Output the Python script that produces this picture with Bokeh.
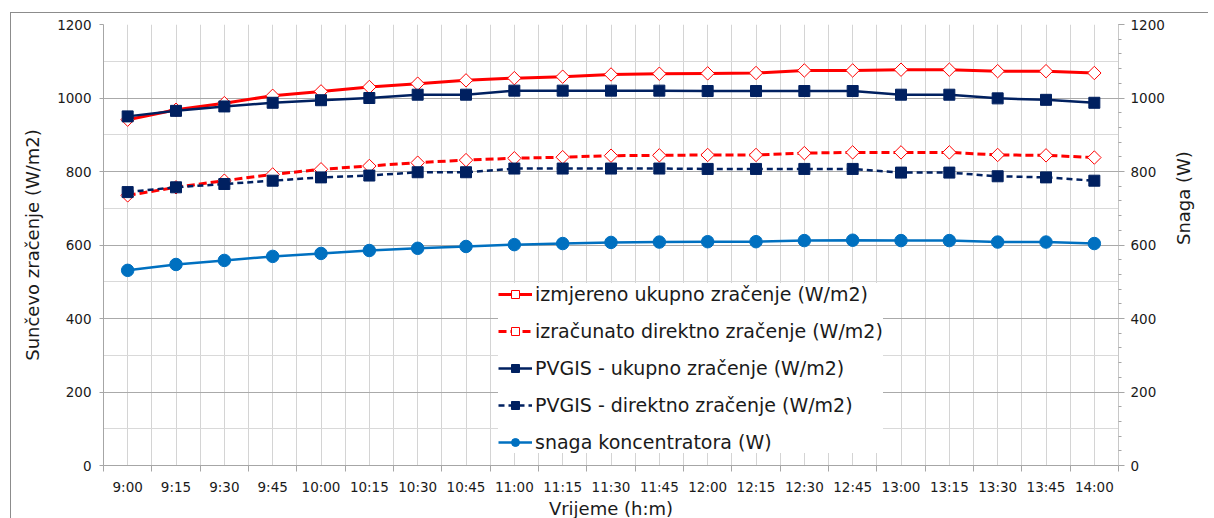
import math
from bokeh.plotting import figure
from bokeh.models import (Range1d, LinearAxis, FixedTicker, Legend, LegendItem, Grid)
from bokeh.embed import file_html
from bokeh.resources import INLINE

times = ["9:00", "9:15", "9:30", "9:45", "10:00", "10:15", "10:30", "10:45",
         "11:00", "11:15", "11:30", "11:45", "12:00", "12:15", "12:30", "12:45",
         "13:00", "13:15", "13:30", "13:45", "14:00"]

izmjereno_ukupno = [941, 968, 986, 1006, 1018, 1030, 1039, 1048, 1054, 1058, 1064,
                    1066, 1067, 1068, 1075, 1075, 1077, 1077, 1073, 1073, 1068]
izracunato_direktno = [735, 757, 775, 792, 806, 815, 824, 831, 836, 839, 843,
                       844, 845, 845, 850, 852, 852, 852, 845, 844, 838]
pvgis_ukupno = [950, 965, 977, 987, 994, 1000, 1009, 1009, 1020, 1020, 1020,
                1020, 1019, 1019, 1019, 1019, 1009, 1009, 999, 995, 987]
pvgis_direktno = [744, 757, 766, 775, 784, 789, 798, 798, 808, 808, 808,
                  808, 807, 807, 807, 807, 797, 797, 787, 784, 775]
snaga = [531, 547, 558, 569, 577, 585, 591, 596, 601, 604, 607,
         608, 609, 609, 612, 613, 612, 612, 608, 608, 604]

y_ticks = [0, 200, 400, 600, 800, 1000, 1200]

FONT = "DejaVu Sans"
TXT = "#1a1a1a"

xs = list(range(len(times)))
centers = xs
bounds = [i - 0.5 for i in range(len(times) + 1)]

p = figure(frame_width=1015, frame_height=441,
           x_range=Range1d(-0.5, len(times) - 0.5), y_range=Range1d(0, 1200),
           output_backend="svg", toolbar_location=None,
           min_border_left=92, min_border_right=90, min_border_top=11,
           min_border_bottom=50, x_axis_type=None, y_axis_type=None)
p.extra_y_ranges = {"power": Range1d(0, 1200)}
p.outline_line_color = None
p.background_fill_color = "white"
p.border_fill_color = "white"
p.styles = {"margin-left": "10px", "margin-top": "12px",
            "border-left": "1px solid #8c8c8c", "border-top": "1px solid #8c8c8c"}

# x axis
xaxis = LinearAxis(ticker=FixedTicker(ticks=centers, minor_ticks=bounds))
xaxis.major_label_overrides = {i: t for i, t in enumerate(times)}
xaxis.major_tick_line_color = None
xaxis.minor_tick_in = 0
xaxis.minor_tick_out = 6
xaxis.minor_tick_line_color = "#a6a6a6"
xaxis.axis_line_color = "#a6a6a6"
xaxis.axis_label = "Vrijeme (h:m)"
xaxis.axis_label_text_font = FONT
xaxis.axis_label_text_font_size = "18px"
xaxis.axis_label_text_font_style = "normal"
xaxis.axis_label_text_color = TXT
xaxis.axis_label_standoff = 0
xaxis.major_label_text_font = FONT
xaxis.major_label_text_font_size = "13.5px"
xaxis.major_label_text_color = TXT
xaxis.major_label_standoff = 7
p.add_layout(xaxis, "below")

# left y axis
yaxis = LinearAxis(ticker=FixedTicker(ticks=y_ticks, minor_ticks=list(range(0, 1201, 100))))
yaxis.axis_label = "Sunčevo zračenje (W/m2)"
yaxis.major_tick_in = 0
yaxis.major_tick_out = 4
yaxis.major_tick_line_color = "#a6a6a6"
yaxis.minor_tick_line_color = None
yaxis.axis_line_color = "#a6a6a6"
yaxis.axis_label_text_font = FONT
yaxis.axis_label_text_font_size = "18px"
yaxis.axis_label_text_font_style = "normal"
yaxis.axis_label_text_color = TXT
yaxis.axis_label_standoff = 11
yaxis.major_label_text_font = FONT
yaxis.major_label_text_font_size = "13.5px"
yaxis.major_label_text_color = TXT
yaxis.major_label_standoff = 8
p.add_layout(yaxis, "left")

# right y axis
raxis = LinearAxis(y_range_name="power",
                   ticker=FixedTicker(ticks=y_ticks, minor_ticks=list(range(0, 1201, 40))))
raxis.axis_label = "Snaga (W)"
raxis.axis_label_orientation = math.pi / 2
raxis.axis_label_text_align = "right"
raxis.axis_label_text_baseline = "top"
raxis.major_tick_in = 0
raxis.major_tick_out = 6
raxis.minor_tick_in = 0
raxis.minor_tick_out = 3
raxis.major_tick_line_color = "#a6a6a6"
raxis.minor_tick_line_color = "#a6a6a6"
raxis.axis_line_color = "#c8c8c8"
raxis.axis_label_text_font = FONT
raxis.axis_label_text_font_size = "18px"
raxis.axis_label_text_font_style = "normal"
raxis.axis_label_text_color = TXT
raxis.axis_label_standoff = 16
raxis.major_label_text_font = FONT
raxis.major_label_text_font_size = "13.5px"
raxis.major_label_text_color = TXT
raxis.major_label_standoff = 6
p.add_layout(raxis, "right")

# grids
xgrid = Grid(dimension=0, ticker=xaxis.ticker)
xgrid.grid_line_color = "#d4d4d4"
xgrid.minor_grid_line_color = "#d4d4d4"
p.add_layout(xgrid)
ygrid = Grid(dimension=1, ticker=yaxis.ticker)
ygrid.grid_line_color = "#aaaaaa"
ygrid.minor_grid_line_color = "#d9d9d9"
p.add_layout(ygrid)

RED = "#ff0000"
NAVY = "#002060"
BLUE = "#0070c0"

l1 = p.line(xs, izmjereno_ukupno, line_color=RED, line_width=3)
s1 = p.scatter(xs, izmjereno_ukupno, marker="square", angle=math.pi / 4, size=9.5,
               fill_color="white", line_color=RED, line_width=1)
l2 = p.line(xs, izracunato_direktno, line_color=RED, line_width=3, line_dash="8 4")
s2 = p.scatter(xs, izracunato_direktno, marker="square", angle=math.pi / 4, size=9.5,
               fill_color="white", line_color=RED, line_width=1)
l3 = p.line(xs, pvgis_ukupno, line_color=NAVY, line_width=2.5)
s3 = p.scatter(xs, pvgis_ukupno, marker="square", size=11, fill_color=NAVY,
               line_color=NAVY)
l4 = p.line(xs, pvgis_direktno, line_color=NAVY, line_width=2.5, line_dash="6 4")
s4 = p.scatter(xs, pvgis_direktno, marker="square", size=11, fill_color=NAVY,
               line_color=NAVY)
l5 = p.line(xs, snaga, line_color=BLUE, line_width=2.5, y_range_name="power")
s5 = p.scatter(xs, snaga, marker="circle", size=12.5, fill_color=BLUE,
               line_color=BLUE, y_range_name="power")

legend = Legend(items=[
    LegendItem(label="izmjereno ukupno zračenje (W/m2)", renderers=[l1, s1]),
    LegendItem(label="izračunato direktno zračenje (W/m2)", renderers=[l2, s2]),
    LegendItem(label="PVGIS - ukupno zračenje (W/m2)", renderers=[l3, s3]),
    LegendItem(label="PVGIS - direktno zračenje (W/m2)", renderers=[l4, s4]),
    LegendItem(label="snaga koncentratora (W)", renderers=[l5, s5]),
], location=(395, 12))
legend.background_fill_color = "white"
legend.background_fill_alpha = 1
legend.border_line_color = None
legend.label_text_font = FONT
legend.label_text_font_size = "19px"
legend.label_text_color = TXT
legend.glyph_width = 34
legend.glyph_height = 20
legend.label_height = 20
legend.spacing = 15
legend.padding = 12
legend.margin = 0
legend.label_standoff = 3
p.add_layout(legend)

open("out.html", "w").write(file_html(p, INLINE))
